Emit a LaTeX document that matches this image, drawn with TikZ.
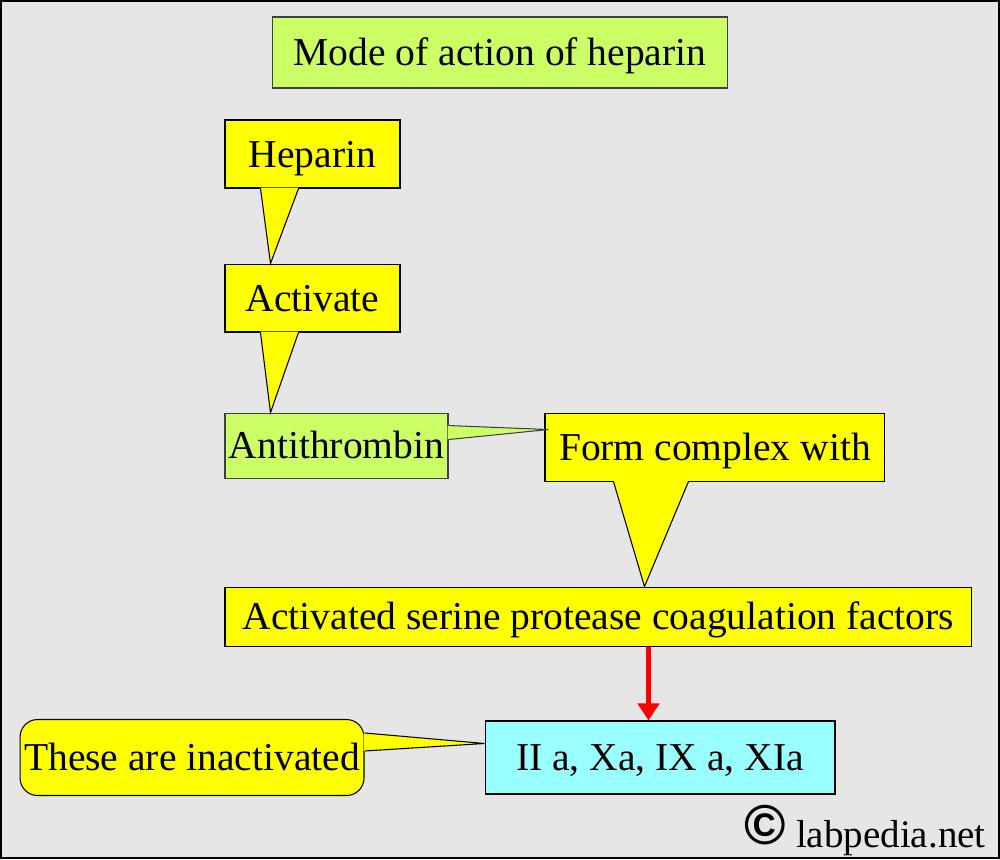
\documentclass[tikz,border=0pt]{standalone}
\usepackage{fontspec}
\setmainfont{Liberation Serif}
\newfontfamily\copyfont{Liberation Sans}
\usepackage{tikz}
\usetikzlibrary{positioning,calc,arrows.meta}
\definecolor{bgrey}{HTML}{E6E6E6}
\definecolor{cyellow}{HTML}{FFFF00}
\definecolor{cgreen}{HTML}{CCFF66}
\definecolor{ccyan}{HTML}{99FFFF}

\begin{document}
\begin{tikzpicture}[
x=0.02cm, y=-0.02cm,
boxnode/.style={rectangle, draw=black, line width=0.6pt, inner sep=0pt, font=\fontsize{22.5}{27}\selectfont, text height=19.4pt, text depth=4.5pt},
yellownode/.style={boxnode, fill=cyellow},
greennode/.style={boxnode, fill=cgreen, draw=black!75},
cyannode/.style={boxnode, fill=ccyan},
tailline/.style={draw=black, line width=0.6pt, line join=miter}
]
    %Background
    \useasboundingbox (0,0) rectangle (1000,859);
    \draw[fill=bgrey, line width=1.2pt] (1,1) rectangle (999,858);

    %Nodes
    \node[greennode, minimum width=9.12cm, minimum height=1.42cm]
        (title)     at (500,52.5)   {Mode of action of heparin};
    \node[yellownode, minimum width=3.5cm, minimum height=1.36cm]
        (hep)       at (312.5,154)  {Heparin};
    \node[yellownode, minimum width=3.5cm, minimum height=1.36cm]
        (act)       [below=1.5cm of hep]    {Activate};
    \node[greennode, minimum width=4.46cm, minimum height=1.3cm]
        (anti)      [below=1.6cm of act.south west, anchor=north west]  {Antithrombin};
    \node[yellownode, minimum width=6.8cm, minimum height=1.36cm]
        (form)      [right=1.92cm of anti.north east, anchor=north west]    {Form complex with};
    \node[yellownode, minimum width=14.94cm, minimum height=1.18cm]
        (serine)    [below=2.16cm of anti.south west, anchor=north west]    {Activated serine protease coagulation factors};
    \node[cyannode, minimum width=7cm, minimum height=1.46cm]
        (fac)       at (660,757.5)  {II a, Xa, IX a, XIa};
    \node[yellownode, rounded corners=0.35cm, minimum width=6.88cm, minimum height=1.52cm]
        (inact)     [left=2.4cm of fac]     {These are inactivated};
    \node[anchor=base east, inner sep=0pt, font=\fontsize{22.2}{27}\selectfont]
        (copy)      at (986,847)    {\raisebox{1.5pt}{\copyfont\bfseries\fontsize{32}{32}\selectfont ©}\hspace{0.25em}labpedia.net};

    %Tails
    \coordinate (hep tip)    at ($(act.north west)+(46,0)$);
    \coordinate (act tip)    at ($(anti.north west)+(46,0)$);
    \coordinate (anti tip)   at ($(form.north west)+(4,17)$);
    \coordinate (form tip)   at ($(serine.north west)+(420,0)$);
    \coordinate (inact tip)  at ($(fac.north west)+(0,23)$);

    \fill[cyellow] ($(hep.south west)+(36,-1)$) -- (hep tip) -- ($(hep.south west)+(74,-1)$) -- cycle;
    \draw[tailline] ($(hep.south west)+(36,0)$) -- (hep tip) -- ($(hep.south west)+(74,0)$);

    \fill[cyellow] ($(act.south west)+(36,-1)$) -- (act tip) -- ($(act.south west)+(74,-1)$) -- cycle;
    \draw[tailline] ($(act.south west)+(36,0)$) -- (act tip) -- ($(act.south west)+(74,0)$);

    \fill[cgreen] ($(anti.north east)+(-1,13)$) -- (anti tip) -- ($(anti.north east)+(-1,27)$) -- cycle;
    \draw[tailline, draw=black!75] ($(anti.north east)+(0,13)$) -- (anti tip) -- ($(anti.north east)+(0,27)$);

    \fill[cyellow] ($(form.south west)+(69,-1)$) -- (form tip) -- ($(form.south west)+(144,-1)$) -- cycle;
    \draw[tailline] ($(form.south west)+(69,0)$) -- (form tip) -- ($(form.south west)+(144,0)$);

    \fill[cyellow] ($(inact.north east)+(-1,14)$) -- (inact tip) -- ($(inact.north east)+(-1,32)$) -- cycle;
    \draw[tailline] ($(inact.north east)+(0,14)$) -- (inact tip) -- ($(inact.north east)+(0,32)$);

    %Lines
    \coordinate (arr top) at ($(serine.south west)+(424,0)$);
    \draw[->, >={Triangle[length=0.34cm, width=0.42cm]}, draw=red, line width=2.8pt]
        (arr top) -- (arr top |- fac.north);
\end{tikzpicture}
\end{document}
